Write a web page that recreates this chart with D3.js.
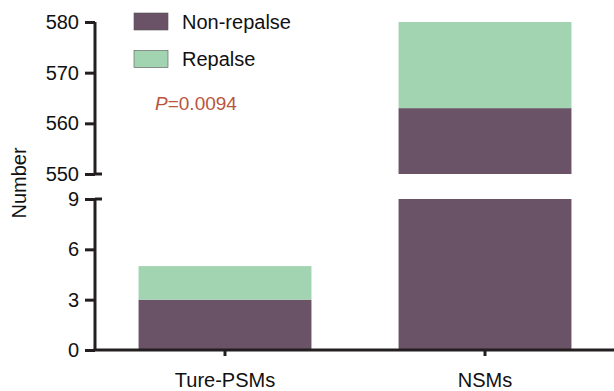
<!DOCTYPE html>
<html>
<head>
<meta charset="utf-8">
<script src="https://cdn.jsdelivr.net/npm/d3@7"></script>
<style>
  body { margin: 0; background: #fff; }
  text { font-family: "Liberation Sans", Arial, sans-serif; }
</style>
</head>
<body>
<div id="chart"></div>
<script>
var categories = ["Ture-PSMs", "NSMs"];
var seriesNames = ["Non-repalse", "Repalse"];
var nonRepalse = [3, 563];
var repalse = [2, 17];
var lowerTicks = [0, 3, 6, 9];
var upperTicks = [550, 560, 570, 580];
var pValue = "0.0094";

var width = 614, height = 391;
var colors = { "Non-repalse": "#6a5366", "Repalse": "#a3d4b2" };
var ink = "#231f20";
var fs = 20;

var svg = d3.select("#chart").append("svg")
  .attr("width", width).attr("height", height);

var axisX = 95;
var yBot = d3.scaleLinear().domain([0, 9]).range([350, 199]);
var yTop = d3.scaleLinear().domain([550, 580]).range([174, 22]);
var x = d3.scaleBand().domain(categories).range([axisX, 615])
  .paddingInner(0.335).paddingOuter(0.1675);

var data = categories.map(function (c, i) {
  return { cat: c, "Non-repalse": nonRepalse[i], "Repalse": repalse[i] };
});
var stacked = d3.stack().keys(seriesNames)(data);

// bars, split over the two segments of the broken axis
var pieces = [];
stacked.forEach(function (s) {
  s.forEach(function (d) {
    var y0 = d[0], y1 = d[1];
    if (y0 < 9) pieces.push({ key: s.key, cat: d.data.cat, a: y0, b: Math.min(y1, 9), sc: yBot });
    if (y1 > 550) pieces.push({ key: s.key, cat: d.data.cat, a: Math.max(y0, 550), b: Math.min(y1, 580), sc: yTop });
  });
});
svg.append("g").selectAll("rect").data(pieces).enter().append("rect")
  .attr("x", function (d) { return x(d.cat); })
  .attr("width", x.bandwidth())
  .attr("y", function (d) { return d.sc(d.b); })
  .attr("height", function (d) { return d.sc(d.a) - d.sc(d.b); })
  .attr("fill", function (d) { return colors[d.key]; });

// y axes
function drawAxis(scale, ticks) {
  var g = svg.append("g").attr("transform", "translate(" + axisX + ",0)")
    .call(d3.axisLeft(scale).tickValues(ticks).tickSize(10).tickPadding(6));
  g.select(".domain").attr("stroke", ink).attr("stroke-width", 3)
    .attr("d", "M0," + scale.range()[0] + "V" + scale.range()[1]);
  g.selectAll(".tick line").attr("stroke", ink).attr("stroke-width", 3);
  g.selectAll(".tick text").attr("fill", "#111").attr("font-size", fs)
    .attr("font-family", "Liberation Sans, Arial, sans-serif");
  return g;
}
drawAxis(yBot, lowerTicks);
drawAxis(yTop, upperTicks);
// right-side caps at the break
[yTop(550), yBot(9)].forEach(function (yy) {
  svg.append("line").attr("x1", axisX).attr("x2", axisX + 7)
    .attr("y1", yy).attr("y2", yy).attr("stroke", ink).attr("stroke-width", 3);
});

// x axis
var gx = svg.append("g").attr("transform", "translate(0," + yBot(0) + ")")
  .call(d3.axisBottom(x).tickSize(6).tickPadding(17).tickSizeOuter(0));
gx.select(".domain").attr("stroke", ink).attr("stroke-width", 3)
  .attr("d", "M" + (axisX - 1.5) + ",0H" + width);
gx.selectAll(".tick line").attr("stroke", ink).attr("stroke-width", 3);
gx.selectAll(".tick text").attr("fill", "#111").attr("font-size", fs)
  .attr("font-family", "Liberation Sans, Arial, sans-serif");

// y label
svg.append("text").attr("transform", "translate(26,183) rotate(-90)")
  .attr("text-anchor", "middle").attr("font-size", fs).attr("fill", "#111")
  .text("Number");

// legend
var leg = svg.append("g").selectAll("g").data(seriesNames).enter().append("g")
  .attr("transform", function (d, i) { return "translate(134," + (13 + i * 37.5) + ")"; });
leg.append("rect").attr("width", 34).attr("height", 17)
  .attr("fill", function (d) { return colors[d]; })
  .attr("stroke", "#555").attr("stroke-width", 0.6);
leg.append("text").attr("x", 48).attr("y", 15.5).attr("font-size", fs).attr("fill", "#111")
  .text(function (d) { return d; });

// p value
var pt = svg.append("text").attr("x", 155).attr("y", 110).attr("font-size", 19).attr("fill", "#b9553e");
pt.append("tspan").attr("font-style", "italic").text("P");
pt.append("tspan").text("=" + pValue);
</script>
</body>
</html>
